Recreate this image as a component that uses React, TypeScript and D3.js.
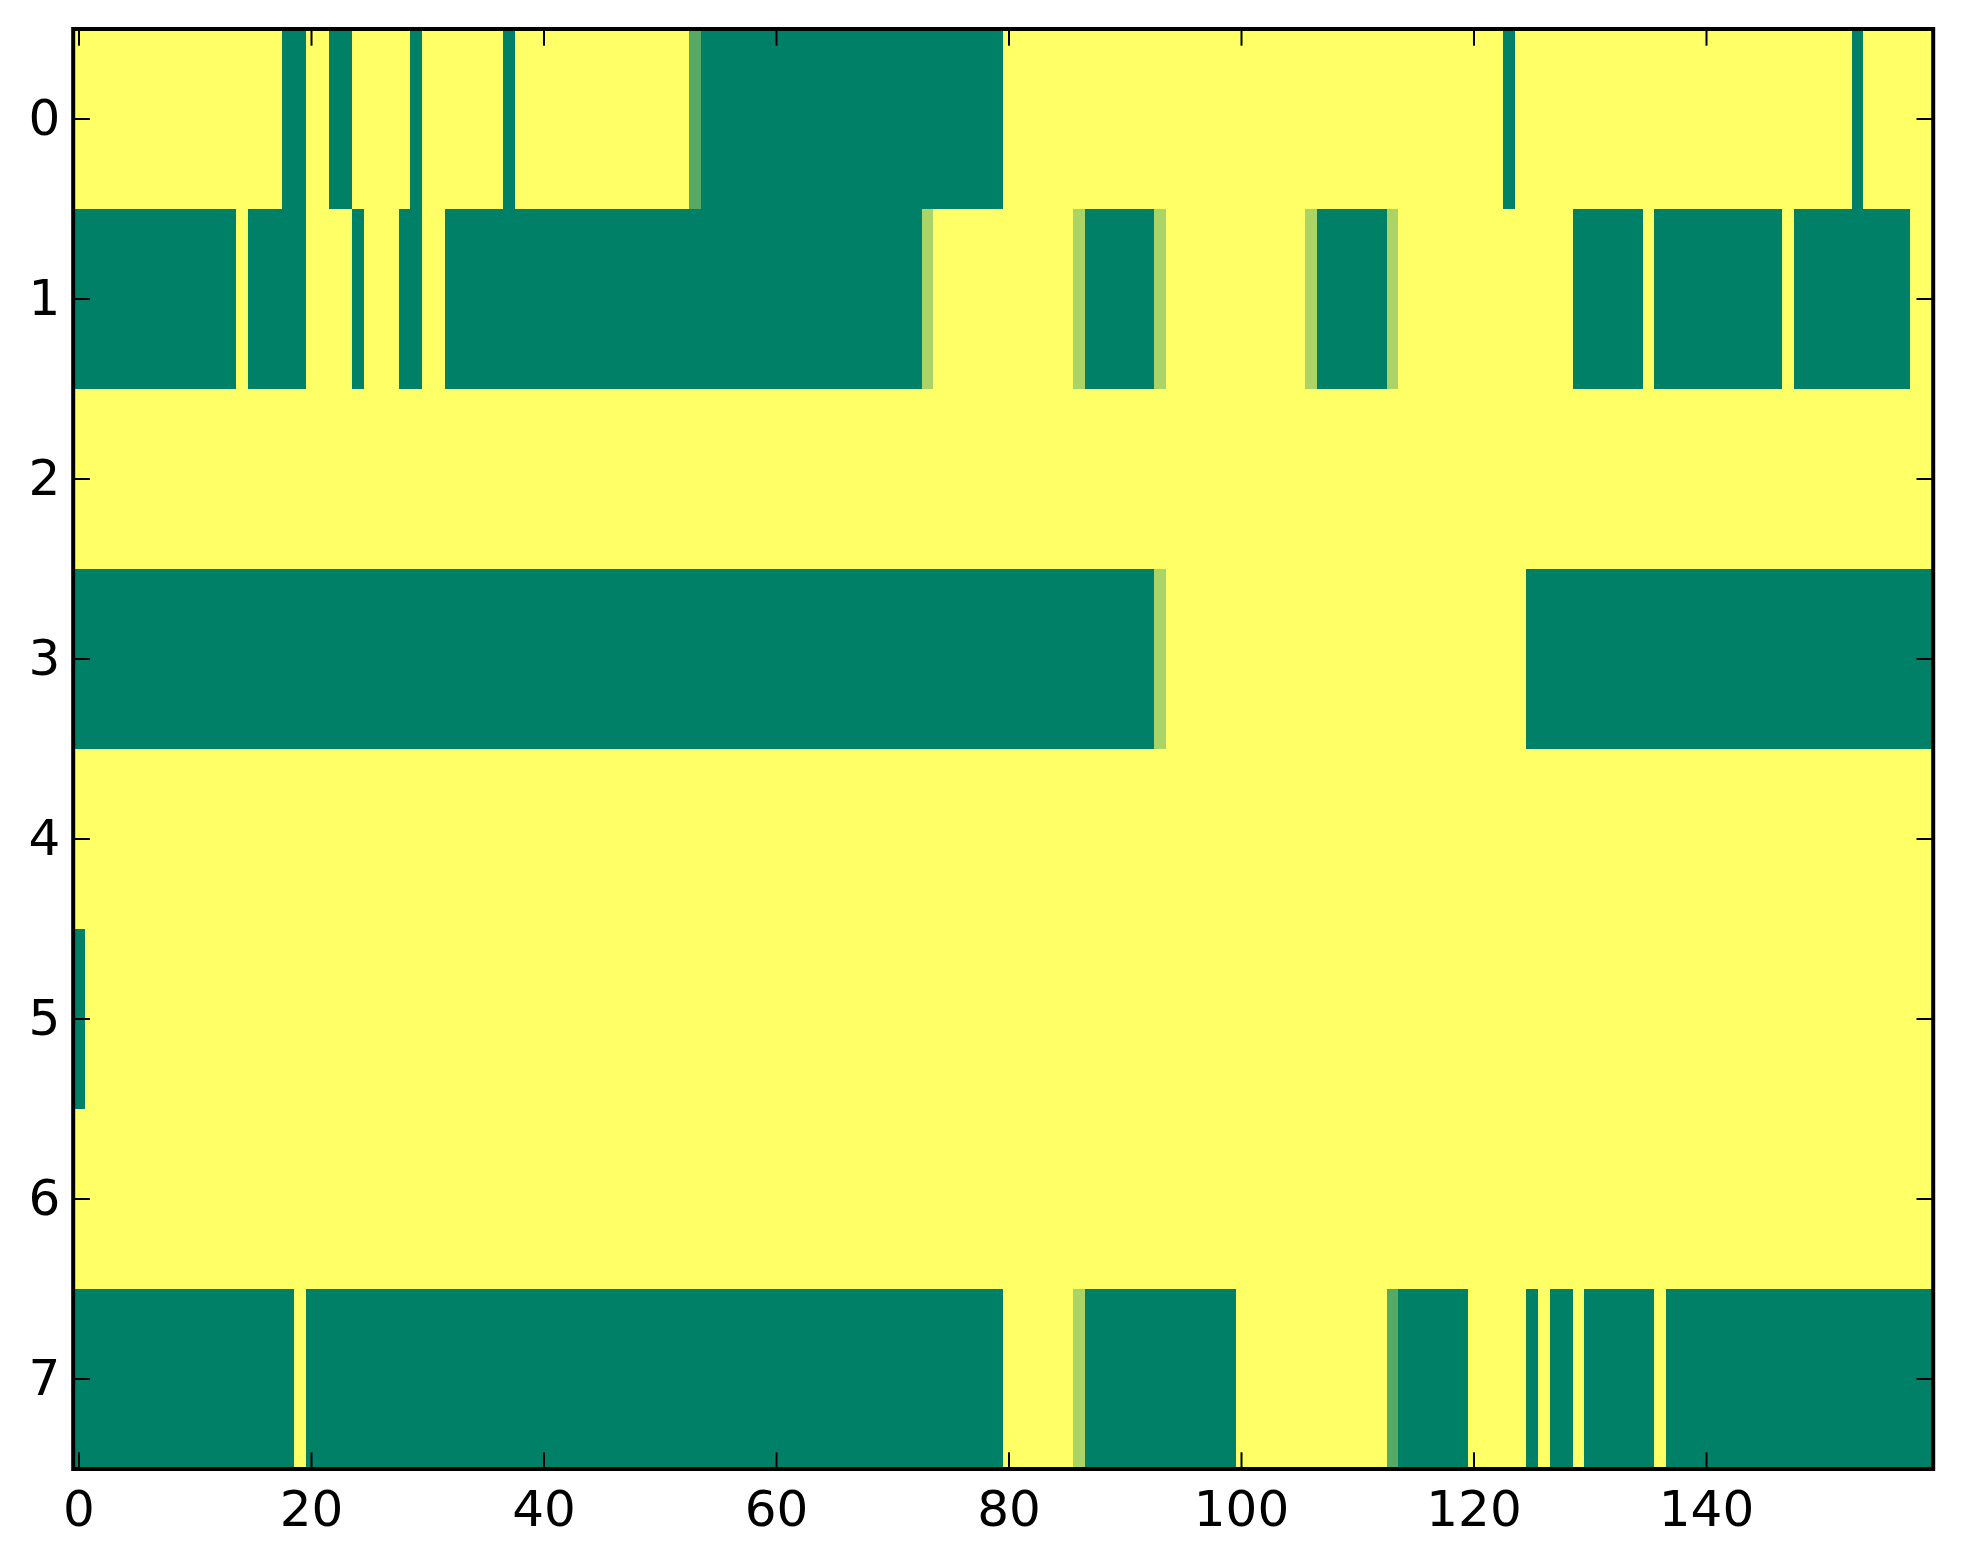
import { scaleLinear } from 'd3';

const width = 1963;
const height = 1564;
const margin = { top: 29, right: 29, bottom: 95, left: 73.2 };
const tickLength = 16.7;
const fontSize = 50;

// each row is a list of runs: [value, number of columns]
// 0 = dark green, 1 = yellow, thirds in between
type Run = [number, number];

const row0: Run[] = [
	[1, 18], [0, 2], [1, 2], [0, 2], [1, 5], [0, 1], [1, 7], [0, 1], [1, 15],
	[1 / 3, 1], [0, 26], [1, 43], [0, 1], [1, 29], [0, 1], [1, 6],
];
const row1: Run[] = [
	[0, 14], [1, 1], [0, 5], [1, 4], [0, 1], [1, 3], [0, 2], [1, 2], [0, 41],
	[2 / 3, 1], [1, 12], [2 / 3, 1], [0, 6], [2 / 3, 1], [1, 12], [2 / 3, 1],
	[0, 6], [2 / 3, 1], [1, 15], [0, 6], [1, 1], [0, 11], [1, 1], [0, 10], [1, 2],
];
const row2: Run[] = [[1, 160]];
const row3: Run[] = [[0, 93], [2 / 3, 1], [1, 31], [0, 35]];
const row4: Run[] = [[1, 160]];
const row5: Run[] = [[0, 1], [1, 159]];
const row6: Run[] = [[1, 160]];
const row7: Run[] = [
	[0, 19], [1, 1], [0, 60], [1, 6], [2 / 3, 1], [0, 13], [1, 13], [1 / 3, 1],
	[0, 6], [1, 5], [0, 1], [1, 1], [0, 2], [1, 1], [0, 6], [1, 1], [0, 23],
];

const rows = [row0, row1, row2, row3, row4, row5, row6, row7];
const columnCount = 160;
const xTicks = [0, 20, 40, 60, 80, 100, 120, 140];
const yTicks = [0, 1, 2, 3, 4, 5, 6, 7];

const innerWidth = 1860;
const innerHeight = 1440;

const xScale = scaleLinear()
	.domain([-0.5, columnCount - 0.5])
	.range([0, innerWidth]);
const yScale = scaleLinear()
	.domain([-0.5, rows.length - 0.5])
	.range([0, innerHeight]);
// matplotlib "summer"
const color = scaleLinear<string>().domain([0, 1]).range(['#008066', '#ffff66']);

const Cells = () => (
	<g shapeRendering="crispEdges">
		{rows.map((runs, r) => {
			let start = 0;
			return runs.map(([value, len], i) => {
				const x0 = xScale(start - 0.5);
				const x1 = xScale(start + len - 0.5);
				start += len;
				return (
					<rect
						key={`${r}-${i}`}
						x={x0}
						y={yScale(r - 0.5)}
						width={x1 - x0}
						height={yScale(r + 0.5) - yScale(r - 0.5)}
						fill={color(value)}
					/>
				);
			});
		})}
	</g>
);

const AxisBottom = () => (
	<g>
		{xTicks.map(t => (
			<g key={t} transform={`translate(${xScale(t)},0)`}>
				<line y1={0} y2={tickLength} stroke="black" strokeWidth={2} />
				<line
					y1={innerHeight}
					y2={innerHeight - tickLength}
					stroke="black"
					strokeWidth={2}
				/>
				<text
					y={innerHeight + 57}
					textAnchor="middle"
					fontSize={fontSize}
					fontFamily="DejaVu Sans"
				>
					{t}
				</text>
			</g>
		))}
	</g>
);

const AxisLeft = () => (
	<g>
		{yTicks.map(t => (
			<g key={t} transform={`translate(0,${yScale(t)})`}>
				<line x1={0} x2={tickLength} stroke="black" strokeWidth={2} />
				<line
					x1={innerWidth}
					x2={innerWidth - tickLength}
					stroke="black"
					strokeWidth={2}
				/>
				<text
					x={-13}
					dy="0.31em"
					textAnchor="end"
					fontSize={fontSize}
					fontFamily="DejaVu Sans"
				>
					{t}
				</text>
			</g>
		))}
	</g>
);

const App = () => (
	<svg
		width={width}
		height={height}
		style={{ position: 'absolute', left: 0, top: 0, background: 'white' }}
	>
		<g transform={`translate(${margin.left},${margin.top})`}>
			<Cells />
			<AxisBottom />
			<AxisLeft />
			<rect
				width={innerWidth}
				height={innerHeight}
				fill="none"
				stroke="black"
				strokeWidth={4}
			/>
		</g>
	</svg>
);

export default App;
